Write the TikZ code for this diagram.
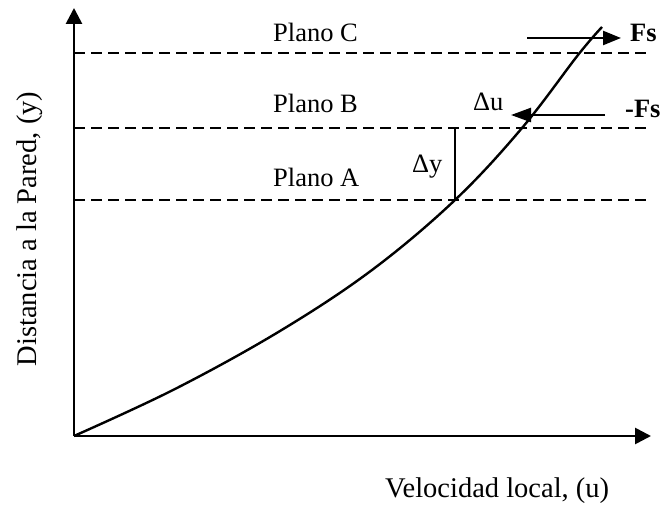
\documentclass[tikz,border=0pt]{standalone}
\usepackage{fontspec}
\setmainfont{Liberation Serif}
\usetikzlibrary{arrows.meta}
\begin{document}
\begin{tikzpicture}[x=1pt,y=-1pt,
  axis/.style={line width=2.7pt,-{Triangle[length=16pt,width=16pt]}},
  plane/.style={line width=1.8pt,dash pattern=on 11pt off 6pt},
  force/.style={line width=2.4pt,-{Triangle[length=18pt,width=14pt]}},
  lbl/.style={inner sep=0pt,anchor=base west,font=\fontsize{26.5}{28}\selectfont},
  axlbl/.style={inner sep=0pt,font=\fontsize{28.5}{30}\selectfont},
  curve/.style={line width=2.4pt}]
\useasboundingbox (0,0) rectangle (663,510);
% axes
\coordinate (O) at (74,436);
\coordinate (ytip) at (74,8);
\coordinate (xtip) at (651,436);
\draw[axis] (O) -- (ytip);
\draw[axis] (O) -- (xtip);
% planes
\coordinate (Cl) at (74,53);  \coordinate (Cr) at (650,53);
\coordinate (Bl) at (74,128); \coordinate (Br) at (650,128);
\coordinate (Al) at (74,200); \coordinate (Ar) at (650,200);
\draw[plane] (Cl) -- (Cr);
\draw[plane] (Bl) -- (Br);
\draw[plane] (Al) -- (Ar);
% velocity profile
\draw[curve] plot[smooth,tension=0.6] coordinates
  {(74,436) (175,389) (280,331) (372,270) (455,200) (522,128) (578,55) (602,27)};
% delta y
\coordinate (dyt) at (455,128);
\coordinate (dyb) at (455,200);
\draw[line width=1.4pt] (dyt) -- (dyb);
% forces
\coordinate (fs1) at (527,38);  \coordinate (fs2) at (621,38);
\coordinate (mf1) at (605,115); \coordinate (mf2) at (511,115);
\draw[force] (fs1) -- (fs2);
\draw[force,-{Triangle[length=20pt,width=14pt]}] (mf1) -- (mf2);
% labels
\node[lbl] (pc) at (273,42) {Plano C};
\node[lbl] (pb) at (273,113) {Plano B};
\node[lbl] (pa) at (273,187) {Plano A};
\node[lbl] (dy) at (412,173) {Δy};
\node[lbl] (du) at (473,111) {Δu};
\node[lbl] (Fs) at (630,42) {\textbf{Fs}};
\node[lbl] (mFs) at (625,118) {\textbf{-Fs}};
\node[axlbl,anchor=base west] (xl) at (385,497) {Velocidad local, (u)};
\node[axlbl,anchor=base,rotate=90] (yl) at (36,229) {Distancia a la Pared, (y)};
\end{tikzpicture}
\end{document}
